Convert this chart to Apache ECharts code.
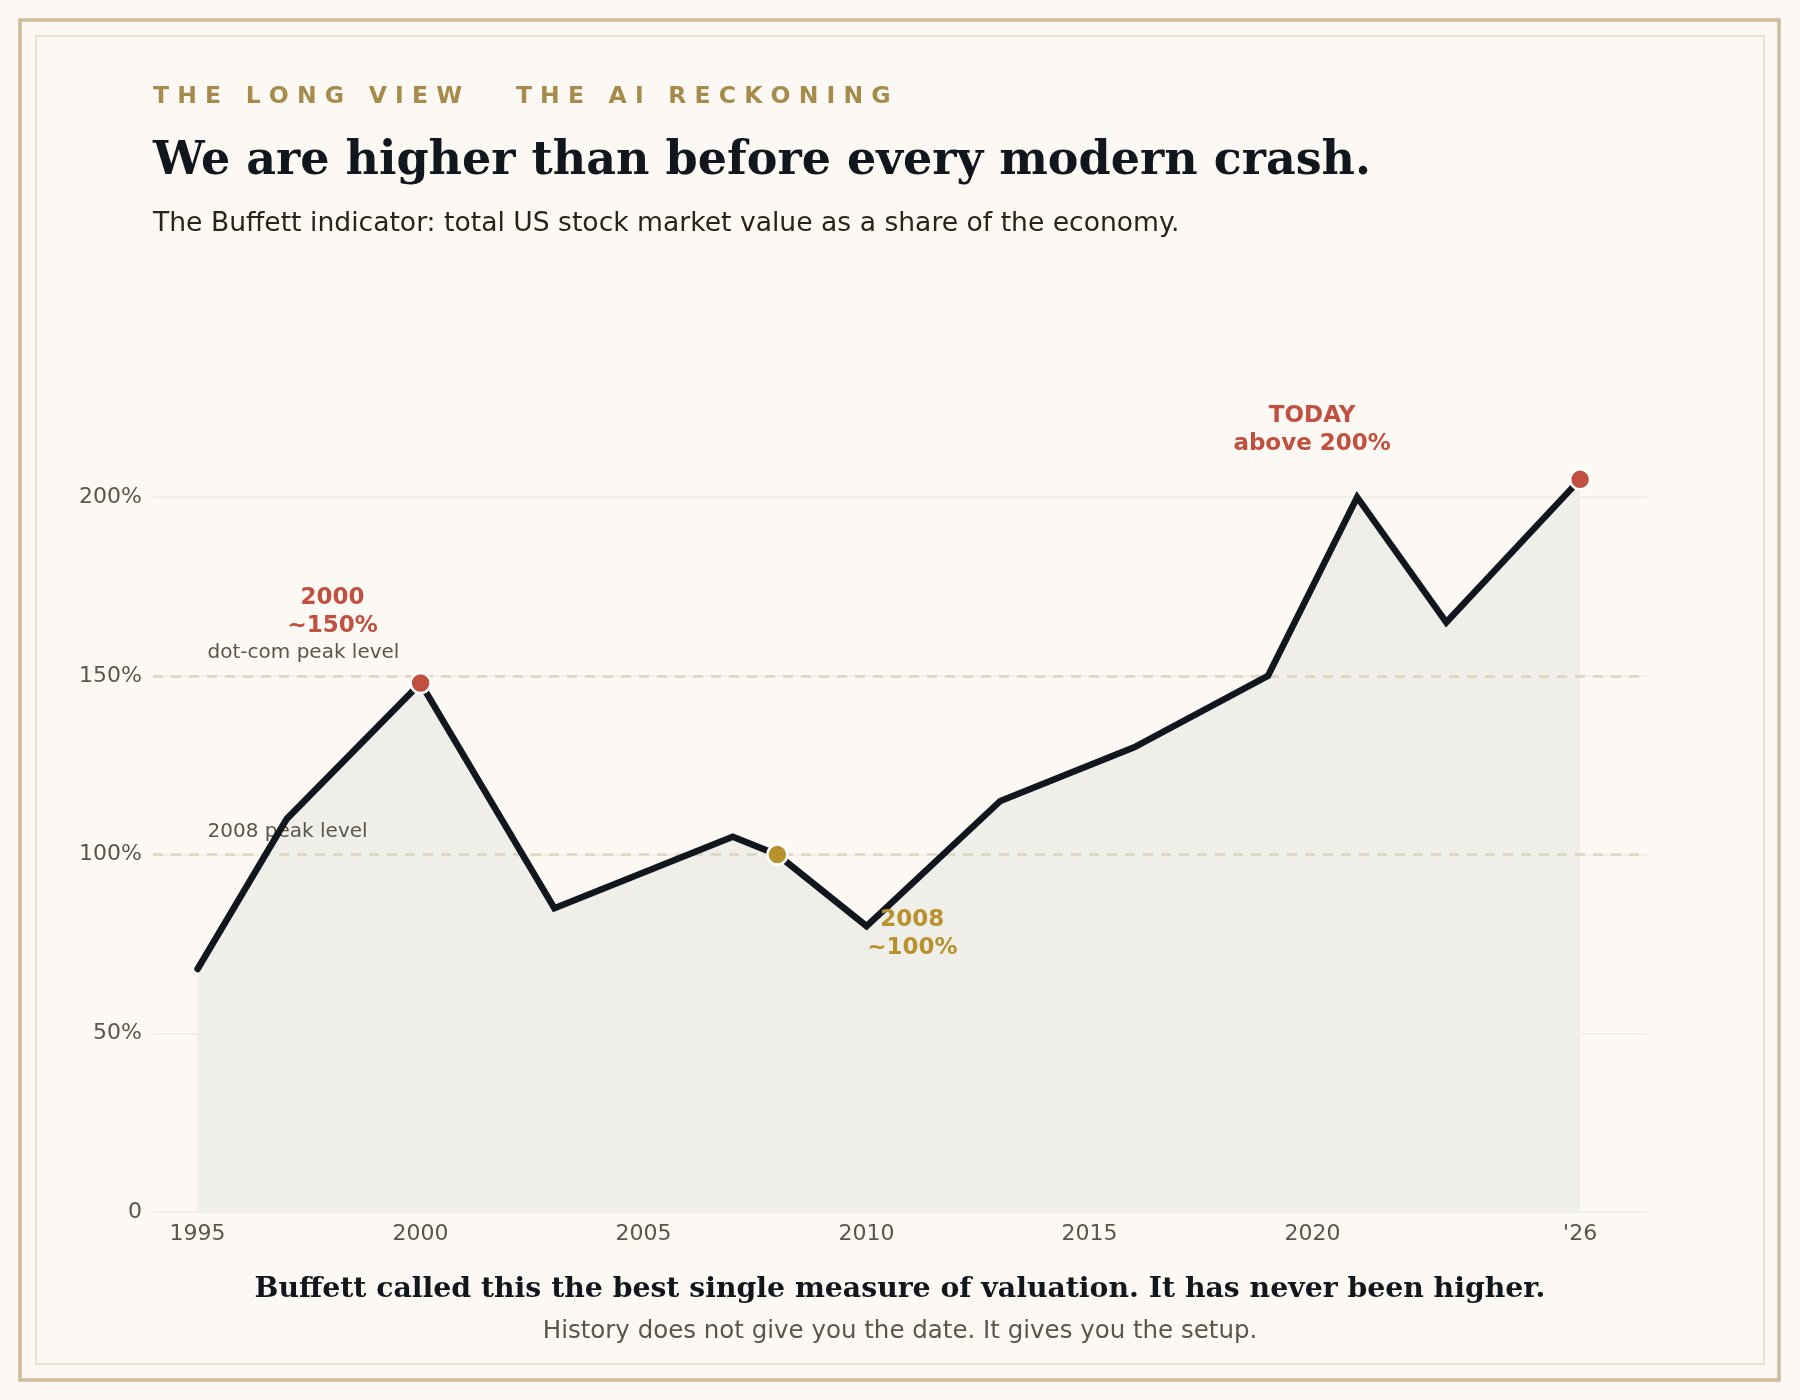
<!DOCTYPE html>
<html>
<head>
    <meta charset="UTF-8">
    <title>Buffett indicator</title>
    <script src="https://cdn.jsdelivr.net/npm/echarts@6.0.0/dist/echarts.min.js"></script>
    <style>
        html, body { margin: 0; padding: 0; background: #fcf9f4; }
        #main { width: 1800px; height: 1400px; }
    </style>
</head>
<body>
    <div id="main"></div>

    <script>
        // Buffett indicator, % of GDP
        var years = [1995, 1997, 2000, 2003, 2007, 2008, 2010, 2013, 2016, 2019, 2021, 2023, 2026];
        var ratio = [68, 110, 148, 85, 105, 100, 80, 115, 130, 150, 200, 165, 205];

        // x axis labels
        var tickYears = [1995, 2000, 2005, 2010, 2015, 2020, 2026];
        var tickNames = ['1995', '2000', '2005', '2010', '2015', '2020', "'26"];

        // dashed reference levels
        var refLevels = [150, 100];
        var refNames = ['dot-com peak level', '2008 peak level'];

        // highlighted points
        var peakYears = [2000, 2008, 2026];
        var peakValues = [148, 100, 205];
        var peakNotes = ['2000\n~150%', '2008\n~100%', 'TODAY\nabove 200%'];

        var RED = '#c0503f', GOLD = '#b8922e', INK = '#12161d', MUTED = '#5b564b';
        var SANS = '"DejaVu Sans", sans-serif', SERIF = '"DejaVu Serif", serif';

        var chart = echarts.init(document.getElementById('main'));

        var lineData = years.map(function (y, i) { return [y, ratio[i]]; });

        var noteStyle = [
            { color: RED, offset: [-88, -71] },
            { color: GOLD, offset: [135, 79] },
            { color: RED, offset: [-268, -49] }
        ];

        var peakData = peakYears.map(function (y, i) {
            return {
                value: [y, peakValues[i]],
                itemStyle: { color: noteStyle[i].color },
                label: {
                    formatter: peakNotes[i],
                    color: noteStyle[i].color,
                    offset: noteStyle[i].offset
                }
            };
        });

        var refData = refLevels.map(function (v, i) {
            return { value: [years[0], v], label: { formatter: refNames[i] } };
        });

        var option = {
            backgroundColor: '#fcf9f4',
            animation: false,
            graphic: [
                { type: 'rect', shape: { x: 20, y: 20, width: 1759, height: 1360 },
                  style: { fill: 'none', stroke: '#cdbb9b', lineWidth: 3.5 }, silent: true },
                { type: 'rect', shape: { x: 36, y: 36, width: 1728, height: 1328 },
                  style: { fill: 'none', stroke: '#e4d9c3', lineWidth: 1.5 }, silent: true },
                { type: 'text', x: 153, y: 97, silent: true,
                  style: { text: 'T H E   L O N G   V I E W     \u2009 T H E   A I   R E C K O N I N G',
                           font: 'bold 23.5px ' + SANS, fill: '#a68b4c', verticalAlign: 'middle' } },
                { type: 'text', x: 153, y: 162, silent: true,
                  style: { text: 'We are higher than before every modern crash.',
                           font: 'bold 46px ' + SERIF, fill: INK, verticalAlign: 'middle' } },
                { type: 'text', x: 153, y: 224, silent: true,
                  style: { text: 'The Buffett indicator: total US stock market value as a share of the economy.',
                           font: '26.6px ' + SANS, fill: '#2b2318', verticalAlign: 'middle' } },
                { type: 'text', x: 900, y: 1290, silent: true,
                  style: { text: 'Buffett called this the best single measure of valuation. It has never been higher.',
                           font: 'bold 28.3px ' + SERIF, fill: INK, align: 'center', verticalAlign: 'middle' } },
                { type: 'text', x: 900, y: 1332, silent: true,
                  style: { text: 'History does not give you the date. It gives you the setup.',
                           font: '24.5px ' + SANS, fill: MUTED, align: 'center', verticalAlign: 'middle' } }
            ],
            grid: { left: 153, right: 153, top: 390, bottom: 188 },
            xAxis: {
                type: 'value',
                min: 1994,
                max: 2027.5,
                interval: 1,
                axisLine: { show: false },
                axisTick: { show: false },
                splitLine: { show: false },
                axisLabel: {
                    margin: 11,
                    fontSize: 22,
                    fontFamily: SANS,
                    color: MUTED,
                    formatter: function (v) {
                        var k = tickYears.indexOf(v);
                        return k >= 0 ? tickNames[k] : '';
                    }
                }
            },
            yAxis: {
                type: 'value',
                min: 0,
                max: 230,
                interval: 50,
                axisLine: { show: false },
                axisTick: { show: false },
                splitLine: { show: true, showMaxLine: false, lineStyle: { color: '#eeebe4', width: 1.5 } },
                axisLabel: {
                    margin: 11,
                    fontSize: 22,
                    fontFamily: SANS,
                    color: MUTED,
                    showMaxLabel: false,
                    formatter: function (v) { return v === 0 ? '0' : v + '%'; }
                }
            },
            series: [
                {
                    // area under the curve, drawn first
                    name: 'area',
                    type: 'line',
                    data: lineData,
                    showSymbol: false,
                    silent: true,
                    lineStyle: { width: 0 },
                    areaStyle: { color: '#efeee9', opacity: 1 },
                    z: 3
                },
                {
                    name: 'levels',
                    type: 'scatter',
                    symbolSize: 0,
                    silent: true,
                    data: refData,
                    itemStyle: { opacity: 1 },
                    label: {
                        show: true,
                        position: [10, -33],
                        fontSize: 20,
                        fontFamily: SANS,
                        color: MUTED
                    },
                    markLine: {
                        silent: true,
                        symbol: 'none',
                        label: { show: false },
                        lineStyle: { color: '#ded4bf', width: 2.5, type: [10, 8], opacity: 1 },
                        data: refLevels.map(function (v) { return { yAxis: v }; })
                    },
                    z: 4
                },
                {
                    name: 'Buffett indicator',
                    type: 'line',
                    data: lineData,
                    showSymbol: false,
                    lineStyle: { color: INK, width: 6.5, join: 'miter', cap: 'round' },
                    z: 5
                },
                {
                    name: 'peaks',
                    type: 'scatter',
                    symbolSize: 20,
                    data: peakData,
                    itemStyle: { borderColor: '#ffffff', borderWidth: 2.5, opacity: 1 },
                    label: {
                        show: true,
                        position: 'inside',
                        fontSize: 23,
                        fontWeight: 'bold',
                        fontFamily: SANS,
                        lineHeight: 28,
                        align: 'center'
                    },
                    z: 6
                }
            ]
        };

        chart.setOption(option);
    </script>
</body>
</html>
